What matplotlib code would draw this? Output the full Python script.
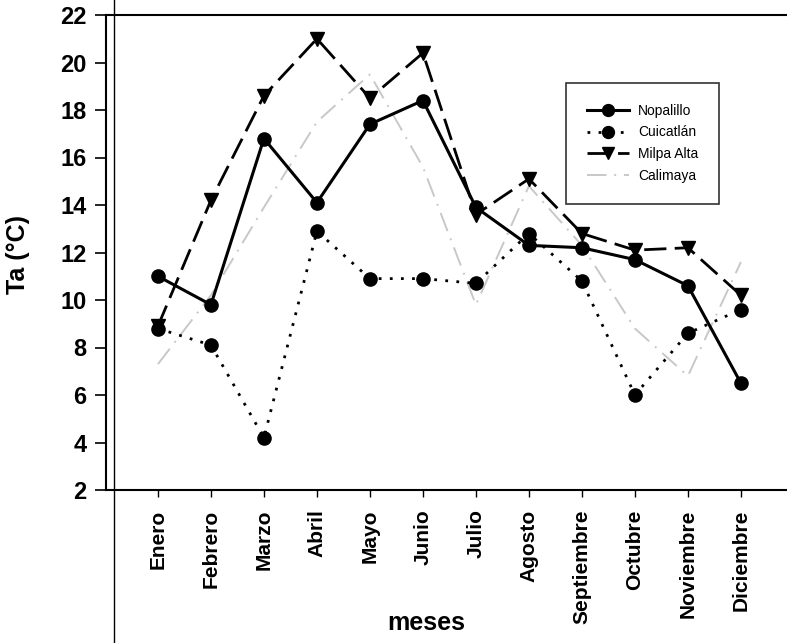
import matplotlib.pyplot as plt
from matplotlib.lines import Line2D

# Monthly air temperature by site
meses = ['Enero', 'Febrero', 'Marzo', 'Abril', 'Mayo', 'Junio', 'Julio',
         'Agosto', 'Septiembre', 'Octubre', 'Noviembre', 'Diciembre']
nopalillo = [11.0, 9.8, 16.8, 14.1, 17.4, 18.4, 13.9, 12.3, 12.2, 11.7, 10.6, 6.5]
cuicatlan = [8.8, 8.1, 4.2, 12.9, 10.9, 10.9, 10.7, 12.8, 10.8, 6.0, 8.6, 9.6]
milpa_alta = [8.9, 14.2, 18.6, 21.0, 18.5, 20.4, 13.6, 15.1, 12.8, 12.1, 12.2, 10.2]
calimaya = [7.3, 10.2, 13.9, 17.5, 19.5, 15.6, 9.8, 14.8, 12.3, 8.8, 6.8, 11.6]

plt.rcParams['font.family'] = ['Liberation Sans', 'DejaVu Sans']

fig = plt.figure(figsize=(7.87, 6.43), dpi=100)
ax = fig.add_axes([106 / 787, 1 - 490 / 643, 1 - 106 / 787, 475 / 643])

x = list(range(len(meses)))
ax.plot(x, calimaya, color='#c8c8c8', linestyle=(0, (10, 4, 1, 4)), lw=1.4,
        label='Calimaya', zorder=1)
ax.plot(x, cuicatlan, color='black', linestyle=(0, (1, 3)), lw=2,
        marker='o', markersize=9.5, label='Cuicatlán', zorder=2)
ax.plot(x, milpa_alta, color='black', linestyle=(0, (8, 3)), lw=2,
        marker='v', markersize=9.5, label='Milpa Alta', zorder=3)
ax.plot(x, nopalillo, color='black', linestyle='-', lw=2.2,
        marker='o', markersize=9.5, label='Nopalillo', zorder=4)

ax.set_xlim(-0.98, 11.87)
ax.set_ylim(2, 22)
ax.set_yticks(range(2, 23, 2))
ax.set_xticks(x)
ax.set_xticklabels(meses, rotation=90, fontsize=15, fontweight='bold')
ax.tick_params(axis='y', direction='out', length=8, width=1.2, labelsize=17, pad=6)
ax.tick_params(axis='x', direction='out', length=5, width=1, pad=9)
for lbl in ax.get_yticklabels():
    lbl.set_fontweight('bold')

ax.spines['right'].set_visible(False)
for side in ['left', 'top', 'bottom']:
    ax.spines[side].set_linewidth(1.5)

ax.set_xlabel('meses', fontsize=18, fontweight='bold')
ax.xaxis.set_label_coords(0.47, -0.255)
ax.set_ylabel('Ta (°C)', fontsize=18, fontweight='bold')
ax.yaxis.set_label_coords(-0.112, 0.495)

# page border line running through the whole figure height
fig.add_artist(Line2D([114 / 787, 114 / 787], [0, 1], color='black', lw=1,
                      transform=fig.transFigure))

handles, labels = ax.get_legend_handles_labels()
order = [3, 1, 2, 0]
leg = ax.legend([handles[i] for i in order], [labels[i] for i in order],
                loc='upper left', bbox_to_anchor=(566 / 787, 1 - 83 / 643),
                bbox_transform=fig.transFigure, fancybox=False, frameon=True,
                edgecolor='black', fontsize=10, handlelength=3,
                handletextpad=0.7, borderpad=1.5, labelspacing=0.55,
                markerscale=0.9, borderaxespad=0)
leg.get_frame().set_linewidth(1.2)

fig.savefig('out.png', dpi=100)
